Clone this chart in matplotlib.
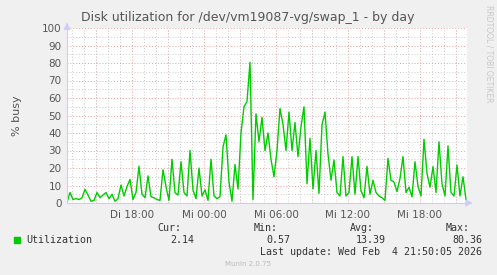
import numpy as np
import matplotlib
matplotlib.use("Agg")
import matplotlib.pyplot as plt
from matplotlib.ticker import MultipleLocator

# data: utilization, one sample every 15 minutes, first sample Di 12:35
start_hour = 12.583
step_hours = 0.25
busy = [0.4, 6, 2, 2.5, 2, 3, 7.8, 4.5, 1, 1.5, 6, 3, 4.5, 6, 2.5, 5, 1, 2.5,
        10.3, 4, 9.4, 13.5, 2, 6, 21, 5, 3, 15.5, 3.6, 3, 2, 1.5, 19, 9.3, 1.5,
        25, 6, 4.5, 23.6, 6, 4, 30, 7.5, 2.5, 20, 4, 7.5, 1.5, 25, 4, 2.5, 3.6,
        32, 39, 12, 1, 22, 8, 40, 55, 58, 80.4, 2, 51, 35, 49, 30, 40, 25, 15,
        30, 54, 45, 30, 52, 30, 46, 26.5, 43.6, 55, 11, 37, 8, 30, 5.5, 44.6,
        52, 28, 13, 24.6, 6, 4, 26.5, 4, 6, 26.5, 5, 26.5, 7, 3, 21, 5, 13, 6,
        4, 3, 1.5, 25.5, 13, 12, 6.5, 14, 26.5, 6, 9, 3.5, 23.6, 9.5, 4, 36.4,
        17, 9, 20.8, 6, 35, 11, 4, 32.6, 6, 4, 21.7, 4, 15, 2.14]
hours = start_hour + step_hours * np.arange(len(busy))

x_ticks = [18, 24, 30, 36, 42]
x_labels = ["Di 18:00", "Mi 00:00", "Mi 06:00", "Mi 12:00", "Mi 18:00"]
x_min, x_max = 12.583, 45.917

legend_name = "Utilization"
stats = {"Cur:": "2.14", "Min:": "0.57", "Avg:": "13.39", "Max:": "80.36"}

W, H = 497, 275
fig = plt.figure(figsize=(W / 100, H / 100), dpi=100)
fig.patch.set_facecolor("#F0F0F0")
ax = fig.add_axes([67 / W, 72 / H, 400 / W, 175 / H])
ax.set_facecolor("white")

ax.set_xlim(x_min, x_max)
ax.set_ylim(0, 100)
ax.xaxis.set_minor_locator(MultipleLocator(1))
ax.yaxis.set_minor_locator(MultipleLocator(5))
ax.set_xticks(x_ticks)
ax.set_xticklabels(x_labels)
ax.set_yticks(range(0, 101, 10))

# grid: gray minor, red major (every 3h / every 10%)
ax.grid(which="minor", color="#CCCCCC", linestyle=(0, (1, 2)), linewidth=0.7)
ax.grid(which="major", axis="y", color="#E8A0A0", linestyle=(0, (1, 2)), linewidth=0.7)
for h in np.arange(15, 46, 3):
    ax.axvline(h, color="#E8A0A0", linestyle=(0, (1, 2)), linewidth=0.7, zorder=0)
ax.set_axisbelow(True)

ax.tick_params(axis="both", which="both", length=0, labelsize=7.5, colors="#555555")
ax.tick_params(axis="x", pad=5)
ax.tick_params(axis="y", pad=4)

for s in ["top", "right"]:
    ax.spines[s].set_visible(False)
ax.spines["left"].set_color("#CCCCFF")
ax.spines["bottom"].set_color("#CCCCFF")
ax.annotate("", xy=(x_max + 0.7, 0), xytext=(x_max, 0),
            arrowprops=dict(arrowstyle="-|>", color="#CCCCFF", lw=0.8),
            annotation_clip=False)
ax.annotate("", xy=(x_min, 103), xytext=(x_min, 100),
            arrowprops=dict(arrowstyle="-|>", color="#CCCCFF", lw=0.8),
            annotation_clip=False)

ax.plot(hours, busy, color="#00CC00", linewidth=1.0)

ax.set_ylabel("% busy", fontsize=8, color="#555555", labelpad=14)

fig.text(248 / W, 1 - 17 / H, "Disk utilization for /dev/vm19087-vg/swap_1 - by day",
         ha="center", va="center", fontsize=9, color="#555555")
fig.text(489 / W, 1 - 54 / H, "RRDTOOL / TOBI OETIKER", rotation=270,
         ha="center", va="center", fontsize=5.5, color="#C8C8C8")

mono = "DejaVu Sans Mono"
fig.patches.append(plt.Rectangle((14 / W, 1 - 243 / H), 6 / W, 6 / H,
                                 transform=fig.transFigure, color="#00CC00"))
fig.text(26 / W, 1 - 240 / H, legend_name, family=mono, fontsize=7.2,
         color="#333333", va="center")
right_edges = [181, 278, 374, 470]
value_edges = [194, 290, 386, 482]
for (k, v), hx, vx in zip(stats.items(), right_edges, value_edges):
    fig.text(hx / W, 1 - 228 / H, k, family=mono, fontsize=7.2, color="#333333",
             ha="right", va="center")
    fig.text(vx / W, 1 - 240 / H, v, family=mono, fontsize=7.2, color="#333333",
             ha="right", va="center")
fig.text(482 / W, 1 - 252 / H, "Last update: Wed Feb  4 21:50:05 2026",
         family=mono, fontsize=7.2, color="#333333", ha="right", va="center")
fig.text(248 / W, 1 - 264 / H, "Munin 2.0.75", fontsize=5, color="#BBBBBB",
         ha="center", va="center")

fig.savefig("out.png", dpi=100, facecolor=fig.get_facecolor())
